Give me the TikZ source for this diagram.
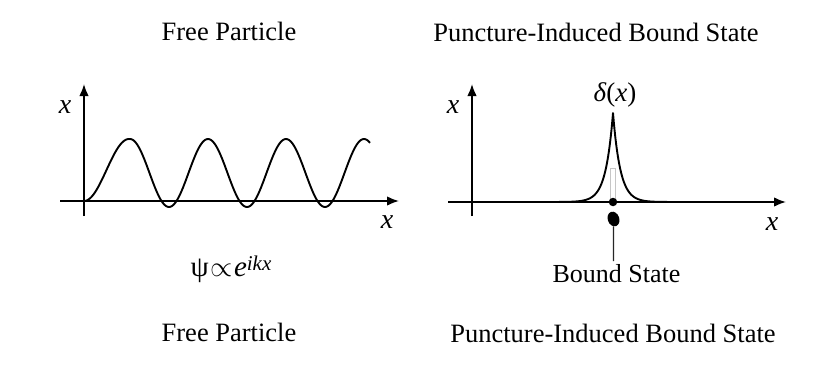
\documentclass[tikz,border=0pt]{standalone}
\usepackage{fontspec}
\setmainfont{Liberation Serif}
\usetikzlibrary{arrows.meta,shapes.geometric}
\begin{document}
\begin{tikzpicture}[x=1pt,y=-1pt,
  axis/.style={line width=1.7pt,-{Latex[length=12pt,width=9.5pt]}},
  curve/.style={line width=1.9pt,line join=round},
  title/.style={anchor=base,inner sep=0pt,font=\fontsize{26.5}{30}\selectfont},
  lbl/.style={anchor=base,inner sep=0pt,font=\fontsize{28}{30}\selectfont\itshape},
  txt/.style={anchor=base,inner sep=0pt,font=\fontsize{26}{30}\selectfont}]
\useasboundingbox[fill=white] (0,0) rectangle (818,364);
% titles
\node[title] (t1) at (229,40) {Free Particle};
\node[title] (t2) at (596,41) {Puncture-Induced Bound State};
\node[title] (b1) at (229,341) {Free Particle};
\node[title] (b2) at (613,342) {Puncture-Induced Bound State};
% left axes
\coordinate (ly0) at (84,216);
\coordinate (ly1) at (84,84);
\coordinate (lx0) at (60,201);
\coordinate (lx1) at (399,201);
\draw[axis] (ly0) -- (ly1);
\draw[axis] (lx0) -- (lx1);
\node[lbl] (lyl) at (65,113) {x};
\node[lbl] (lxl) at (387,228) {x};
\draw[curve] plot[domain=84:130,samples=60,smooth] (\x,{201-31*(1-cos(4*(\x-84)))})
  -- plot[domain=130:370,samples=200,smooth] (\x,{173+34*cos(4.61538*(\x-91))});
\node[anchor=base,inner sep=0pt] (psi) at (231,276)
  {\fontsize{29}{30}\selectfont ψ\kern2pt\scalebox{1.15}{$\propto$}\kern1pt\textit{e}\raisebox{6pt}{\fontsize{21}{21}\selectfont\itshape ikx}};
% right axes
\coordinate (ry0) at (472,216);
\coordinate (ry1) at (472,84);
\coordinate (rx0) at (448,202);
\coordinate (rx1) at (786,202);
\draw[axis] (ry0) -- (ry1);
\draw[axis] (rx0) -- (rx1);
\node[lbl] (ryl) at (453,113) {x};
\node[lbl] (rxl) at (772,230) {x};
% faint guide
\draw[gray!45,line width=0.8pt] (610.5,168) rectangle (615.5,199);
\draw[curve] plot[domain=472:613,samples=200] (\x,{202-89*exp(-(613-\x)/7.3)})
  -- plot[domain=613:772,samples=200] (\x,{202-89*exp(-(\x-613)/7.3)});
\node[anchor=base,inner sep=0pt,font=\fontsize{27}{30}\selectfont] (delta) at (615,101) {\textit{δ}(\textit{x})};
% bound state markers
\node[circle,fill=black,inner sep=0pt,minimum size=8.5pt] (dot) at (613,202) {};
\node[ellipse,fill=black,inner sep=0pt,minimum width=11.5pt,minimum height=15pt,rotate=20] (blob) at (613.5,219) {};
\node[txt] (bs) at (616.5,282) {Bound State};
\coordinate (bsTop) at (613.5,261);
\draw[line width=1.4pt,black!85] (blob) -- (bsTop);
\end{tikzpicture}
\end{document}
